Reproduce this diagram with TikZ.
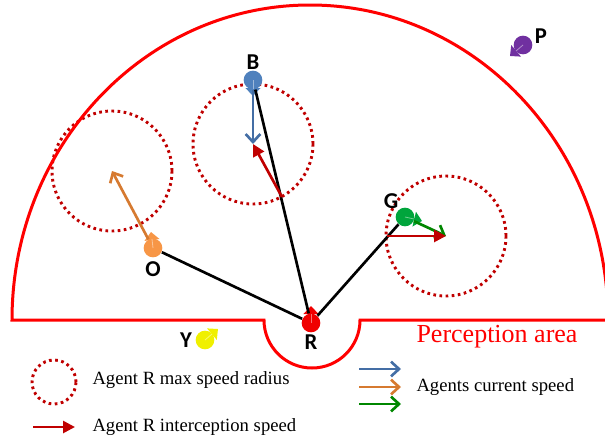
\documentclass[tikz,border=0pt]{standalone}
\usepackage{fontspec}
\setmainfont{Liberation Serif}
\newfontfamily\agentfont{Carlito}
\usetikzlibrary{arrows.meta}

\definecolor{percred}{RGB}{255,0,0}
\definecolor{radiusred}{RGB}{192,0,0}
\definecolor{agentblue}{RGB}{79,129,189}
\definecolor{speedblue}{RGB}{68,110,165}
\definecolor{agentorange}{RGB}{247,150,70}
\definecolor{speedorange}{RGB}{214,122,48}
\definecolor{agentgreen}{RGB}{0,165,60}
\definecolor{speedgreen}{RGB}{0,135,0}
\definecolor{agentred}{RGB}{240,0,0}
\definecolor{agentyellow}{RGB}{240,240,0}
\definecolor{agentpurple}{RGB}{112,48,160}

\tikzset{every picture/.style={line width=0.75pt}}
\tikzset{
  agent/.style={circle, inner sep=0pt, minimum size=14pt},
  agentlabel/.style={inner sep=0.75pt, font=\agentfont\bfseries\fontsize{17}{17}\selectfont},
  heading/.style={-{Triangle[length=6pt,width=11pt]}, line width=1.5pt},
  headmark/.style={white, opacity=0.45, line width=0.6pt},
  maxradius/.style={radiusred, line width=2.2pt, dash pattern=on 2pt off 2.6pt},
  speedarrow/.style={-{Straight Barb[length=6pt,width=11pt]}, line width=2pt},
  intercept/.style={radiusred, line width=2pt, -{Triangle[length=9pt,width=9pt]}},
  link/.style={line width=2pt},
  legendtext/.style={anchor=west, inner sep=0.75pt, font=\fontsize{14}{16}\selectfont}
}

\begin{document}
\begin{tikzpicture}[x=0.75pt,y=0.75pt,yscale=-1,xscale=1]
\useasboundingbox (0,0) rectangle (605,439);

% max speed circles
\coordinate (cO) at (112,171);
\coordinate (cB) at (253,144);
\coordinate (cG) at (446,236);
\draw[maxradius] (cO) circle [radius=60];
\draw[maxradius] (cB) circle [radius=60];
\draw[maxradius] (cG) circle [radius=60];

% perception area
\draw[percred, line width=2.25pt] (12,320) -- (264,320) arc [start angle=180, end angle=0, radius=48] -- (608,320) arc [start angle=0, end angle=-180, x radius=298, y radius=315] -- cycle;

% Agents
\node[agent, fill=agentred] (R) at (311,323) {};
\node[agent, fill=agentblue] (B) at (253,80) {};
\node[agent, fill=agentorange] (O) at (153,248) {};
\node[agent, fill=agentgreen] (G) at (405,217) {};
\node[agent, fill=agentyellow] (Y) at (205,340) {};
\node[agent, fill=agentpurple] (P) at (523,45) {};

% headings
\draw[heading, agentred] (R.center) -- ++(0,-17);
\draw[heading, agentblue] (B.center) -- ++(0,16);
\draw[heading, agentorange] (O.center) -- ++(-2,-16);
\draw[heading, agentgreen] (G.center) -- ++(17,4);
\draw[heading, agentyellow] (Y.center) -- ++(13,-11);
\draw[heading, agentpurple] (P.center) -- ++(-13,11);
\draw[headmark] (R.center) -- ++(0,-9);
\draw[headmark] (B.center) -- ++(0,9);
\draw[headmark] (O.center) -- ++(-1,-9);
\draw[headmark] (G.center) -- ++(9,2);
\draw[headmark] (Y.center) -- ++(7,-6);
\draw[headmark] (P.center) -- ++(-7,6);

% Text Node
\draw (R) ++(0,19) node[agentlabel] {R};
\draw (B) ++(0,-18) node[agentlabel] {B};
\draw (O) ++(0,21) node[agentlabel] {O};
\draw (G) ++(-14,-16) node[agentlabel] {G};
\draw (Y) ++(-19,0) node[agentlabel] {Y};
\draw (P) ++(18,-9) node[agentlabel] {P};

% lines to R
\draw[link] (O) -- (R);
\draw[link] (B) -- (R);
\draw[link] (G) -- (R);

% current speed
\draw[speedarrow, speedblue] (B) -- (cB);
\draw[speedarrow, speedorange] (O) -- (cO);
\draw[speedarrow, speedgreen] (G) -- (cG);

% interception speed
\coordinate (iB) at (282,197);
\coordinate (iG) at (387,236);
\draw[intercept] (iB) -- (cB);
\draw[intercept] (iG) -- (cG);

% Text Node
\draw (415,337) node[anchor=west, inner sep=0.75pt, text=percred, font=\fontsize{19.5}{21}\selectfont] {Perception area};

% legend
\node[maxradius, draw, circle, inner sep=0pt, minimum size=33pt] (legradius) at (54,382) {};
\draw (91,380) node[legendtext] {Agent R max speed radius};
\coordinate (li0) at (33,427);
\coordinate (li1) at (75,427);
\draw[intercept] (li0) -- (li1);
\draw (91,427) node[legendtext] {Agent R interception speed};
\coordinate (lb0) at (359,369);
\coordinate (lb1) at (401,369);
\coordinate (lo0) at (359,387);
\coordinate (lo1) at (401,387);
\coordinate (lg0) at (359,404);
\coordinate (lg1) at (401,404);
\draw[speedarrow, speedblue] (lb0) -- (lb1);
\draw[speedarrow, speedorange] (lo0) -- (lo1);
\draw[speedarrow, speedgreen] (lg0) -- (lg1);
\draw (415,387) node[legendtext] {Agents current speed};

\end{tikzpicture}
\end{document}
